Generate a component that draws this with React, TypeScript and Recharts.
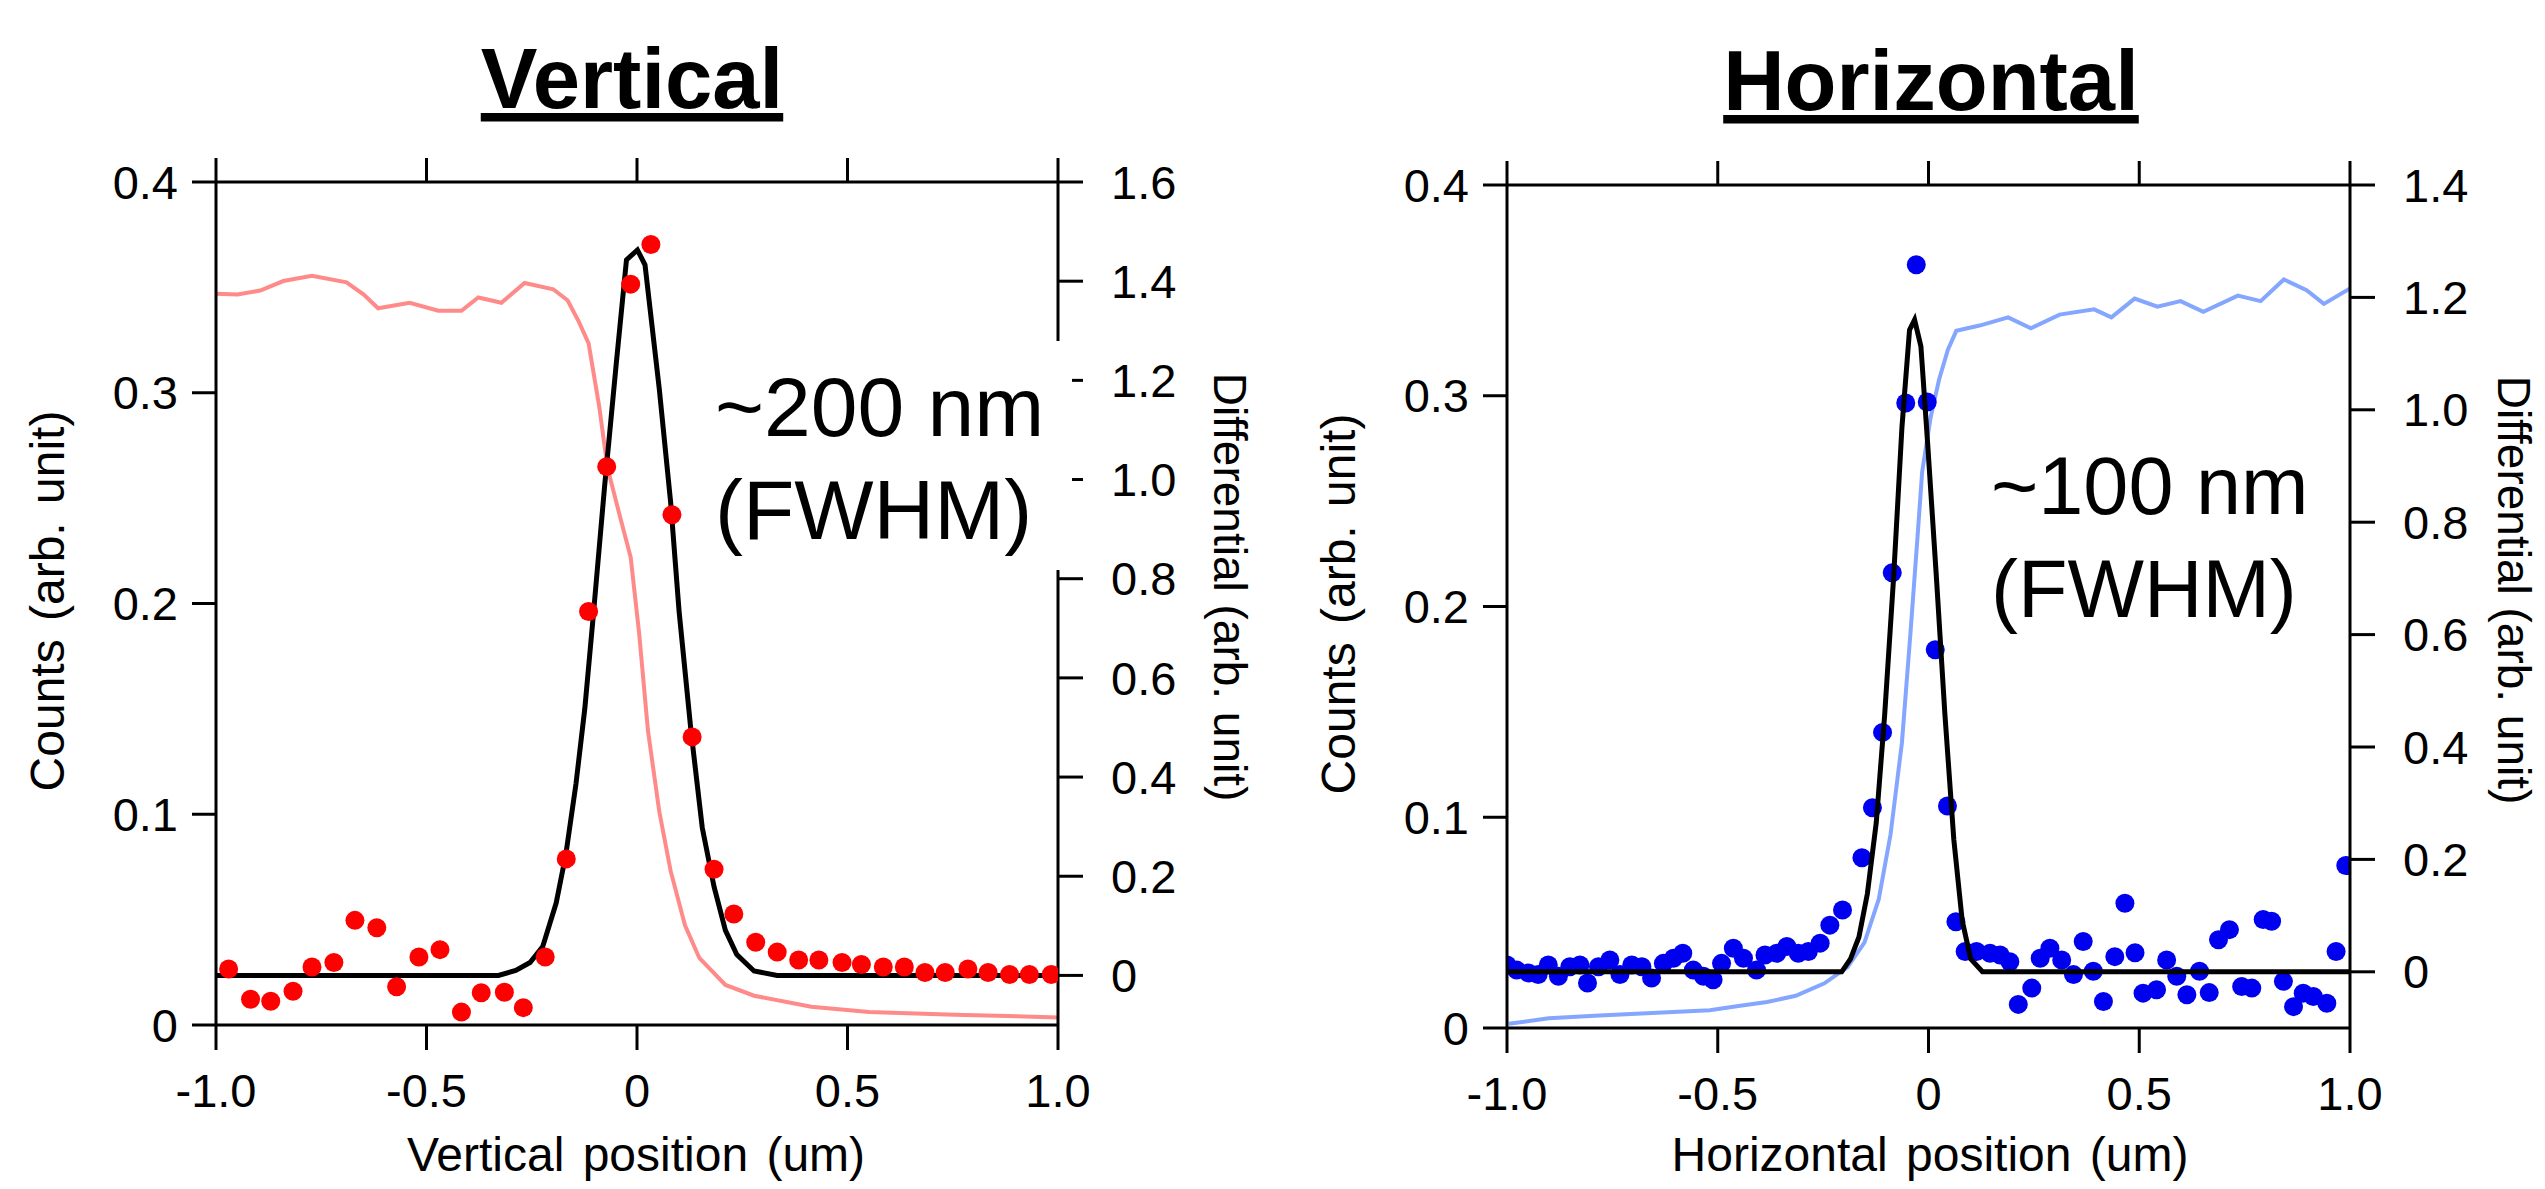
import React from 'react'
import { ComposedChart, Line, Scatter, XAxis, YAxis } from 'recharts'

const FONT = '"Liberation Sans", Arial, Helvetica, sans-serif'

// shared axis ticks
const xTicks = [-1, -0.5, 0, 0.5, 1]
const countTicks = [0, 0.1, 0.2, 0.3, 0.4]
const vertDiffTicks = [0, 0.2, 0.4, 0.6, 0.8, 1.0, 1.2, 1.4, 1.6]
const horDiffTicks = [0, 0.2, 0.4, 0.6, 0.8, 1.0, 1.2, 1.4]

// Vertical scan: knife-edge counts (left axis)
const vertEdgeX = [-1.0, -0.949, -0.895, -0.84, -0.772, -0.69, -0.649, -0.615, -0.54, -0.472, -0.417, -0.377, -0.322, -0.267, -0.199, -0.165, -0.138, -0.115, -0.09, -0.07, -0.042, -0.015, 0.005, 0.026, 0.053, 0.08, 0.114, 0.148, 0.21, 0.278, 0.414, 0.551, 0.755, 1.0]
const vertEdgeY = [0.347, 0.3466, 0.3485, 0.353, 0.3555, 0.3524, 0.3466, 0.3401, 0.3427, 0.3389, 0.3389, 0.3452, 0.3427, 0.3521, 0.3491, 0.3439, 0.3336, 0.3234, 0.2938, 0.2643, 0.2425, 0.2219, 0.186, 0.1397, 0.1012, 0.073, 0.0473, 0.0318, 0.019, 0.0139, 0.0087, 0.0062, 0.0049, 0.0036]

// Vertical scan: gaussian fit (right axis)
const vertFitX = [-1.0, -0.329, -0.288, -0.254, -0.224, -0.192, -0.169, -0.145, -0.124, -0.104, -0.077, -0.049, -0.025, 0.001, 0.019, 0.053, 0.08, 0.1, 0.128, 0.155, 0.183, 0.21, 0.237, 0.278, 0.333, 1.0]
const vertFitY = [0, 0, 0.01, 0.026, 0.058, 0.146, 0.244, 0.386, 0.538, 0.724, 0.986, 1.236, 1.443, 1.463, 1.433, 1.182, 0.953, 0.734, 0.495, 0.298, 0.179, 0.091, 0.042, 0.009, 0, 0]

// Vertical scan: differential points (right axis)
const vertDotX = [-0.97, -0.918, -0.87, -0.817, -0.772, -0.72, -0.67, -0.618, -0.571, -0.518, -0.468, -0.417, -0.37, -0.315, -0.27, -0.218, -0.168, -0.115, -0.072, -0.015, 0.033, 0.083, 0.131, 0.183, 0.23, 0.282, 0.333, 0.384, 0.432, 0.487, 0.533, 0.585, 0.635, 0.684, 0.732, 0.786, 0.834, 0.885, 0.932, 0.984]
const vertDotY = [0.013, -0.048, -0.052, -0.032, 0.017, 0.026, 0.111, 0.096, -0.023, 0.037, 0.052, -0.074, -0.035, -0.034, -0.065, 0.037, 0.235, 0.734, 1.026, 1.394, 1.474, 0.929, 0.481, 0.214, 0.124, 0.067, 0.047, 0.031, 0.031, 0.026, 0.022, 0.017, 0.017, 0.006, 0.006, 0.013, 0.006, 0.002, 0.002, 0.002]

// Horizontal scan: knife-edge counts (left axis)
const horEdgeX = [-0.996, -0.901, -0.792, -0.656, -0.519, -0.451, -0.383, -0.315, -0.247, -0.192, -0.152, -0.118, -0.09, -0.063, -0.043, -0.026, -0.015, 0.005, 0.025, 0.046, 0.066, 0.121, 0.189, 0.243, 0.311, 0.393, 0.434, 0.489, 0.543, 0.598, 0.652, 0.734, 0.788, 0.843, 0.897, 0.938, 0.999]
const horEdgeY = [0.002, 0.0046, 0.0058, 0.0071, 0.0084, 0.0104, 0.0123, 0.0153, 0.0212, 0.0289, 0.0405, 0.0611, 0.0919, 0.1355, 0.1869, 0.2332, 0.264, 0.2897, 0.3076, 0.3218, 0.3308, 0.3333, 0.3372, 0.332, 0.3385, 0.341, 0.3372, 0.3461, 0.3423, 0.3449, 0.3398, 0.3475, 0.3449, 0.3552, 0.3501, 0.3436, 0.3508]

// Horizontal scan: gaussian fit (right axis)
const horFitX = [-1.0, -0.206, -0.185, -0.165, -0.145, -0.124, -0.104, -0.083, -0.063, -0.045, -0.033, -0.018, -0.002, 0.019, 0.039, 0.06, 0.08, 0.1, 0.128, 1.0]
const horFitY = [0, 0, 0.023, 0.062, 0.139, 0.265, 0.457, 0.699, 0.969, 1.142, 1.16, 1.113, 0.94, 0.699, 0.457, 0.236, 0.091, 0.023, 0, 0]

// Horizontal scan: differential points (right axis)
const horDotX = [-1.0, -0.977, -0.949, -0.926, -0.902, -0.878, -0.851, -0.827, -0.809, -0.783, -0.756, -0.732, -0.704, -0.68, -0.657, -0.629, -0.605, -0.583, -0.558, -0.534, -0.511, -0.491, -0.463, -0.439, -0.408, -0.388, -0.36, -0.336, -0.309, -0.285, -0.257, -0.234, -0.204, -0.158, -0.133, -0.109, -0.086, -0.054, -0.029, -0.003, 0.016, 0.045, 0.065, 0.087, 0.114, 0.146, 0.17, 0.193, 0.213, 0.245, 0.265, 0.288, 0.316, 0.344, 0.367, 0.391, 0.415, 0.442, 0.466, 0.49, 0.509, 0.541, 0.565, 0.589, 0.613, 0.643, 0.666, 0.688, 0.714, 0.743, 0.767, 0.794, 0.814, 0.842, 0.866, 0.889, 0.913, 0.945, 0.967, 0.99]
const horDotY = [0.012, 0.003, -0.002, -0.005, 0.012, -0.008, 0.009, 0.012, -0.02, 0.009, 0.021, -0.005, 0.012, 0.009, -0.011, 0.015, 0.024, 0.033, 0.003, -0.008, -0.014, 0.015, 0.042, 0.024, 0.003, 0.03, 0.033, 0.045, 0.033, 0.036, 0.051, 0.083, 0.11, 0.203, 0.292, 0.426, 0.71, 1.012, 1.258, 1.014, 0.573, 0.295, 0.089, 0.036, 0.036, 0.033, 0.03, 0.018, -0.058, -0.029, 0.024, 0.042, 0.021, -0.005, 0.054, 0.001, -0.053, 0.027, 0.122, 0.034, -0.038, -0.032, 0.021, -0.008, -0.041, 0.001, -0.037, 0.057, 0.075, -0.026, -0.029, 0.093, 0.09, -0.017, -0.062, -0.038, -0.044, -0.056, 0.036, 0.189]

const zip = (xs: number[], ys: number[]) => xs.map((x, i) => ({ x, y: ys[i] }))

const fmt = (v: number) => (v === 0 ? '0' : v.toFixed(1))

const axisStroke = { stroke: '#000', strokeWidth: 3 }
const tickText = { fill: '#000', fontSize: 47, fontFamily: FONT }

interface PanelProps {
  left: number
  width: number
  margin: { top: number; right: number; bottom: number; left: number }
  edge: { x: number; y: number }[]
  fit: { x: number; y: number }[]
  dots: { x: number; y: number }[]
  edgeColor: string
  dotColor: string
  diffMax: number
  diffTicks: number[]
  dotsOnTop: boolean
}

const Panel: React.FC<PanelProps> = ({ left, width, margin, edge, fit, dots, edgeColor, dotColor, diffMax, diffTicks, dotsOnTop }) => {
  const dotShape = (p: any) => <circle cx={p.cx} cy={p.cy} r={9.5} fill={dotColor} />
  const scatter = (
    <Scatter
      key="dots"
      xAxisId="b"
      yAxisId="R"
      data={dots}
      dataKey="y"
      fill={dotColor}
      shape={dotShape}
      isAnimationActive={false}
      zIndex={dotsOnTop ? 700 : 350}
    />
  )
  return (
    <div style={{ position: 'absolute', left, top: 0 }}>
      <ComposedChart width={width} height={1189} margin={margin}>
        <XAxis
          xAxisId="b"
          type="number"
          dataKey="x"
          domain={[-1, 1]}
          ticks={xTicks}
          interval={0}
          allowDataOverflow
          tickFormatter={fmt}
          height={100}
          tickSize={25}
          tickMargin={24}
          axisLine={axisStroke}
          tickLine={axisStroke}
          tick={tickText}
        />
        <XAxis
          xAxisId="t"
          orientation="top"
          type="number"
          dataKey="x"
          domain={[-1, 1]}
          ticks={xTicks}
          interval={0}
          allowDataOverflow
          tickFormatter={() => ''}
          height={30}
          tickSize={24}
          axisLine={axisStroke}
          tickLine={axisStroke}
          tick={tickText}
        />
        <YAxis
          yAxisId="L"
          dataKey="y"
          type="number"
          domain={[0, 0.4]}
          ticks={countTicks}
          interval={0}
          allowDataOverflow
          tickFormatter={fmt}
          width={100}
          tickSize={24}
          tickMargin={14}
          axisLine={axisStroke}
          tickLine={axisStroke}
          tick={tickText}
        />
        <YAxis
          yAxisId="R"
          orientation="right"
          dataKey="y"
          type="number"
          domain={[-0.1, diffMax]}
          ticks={diffTicks}
          interval={0}
          allowDataOverflow
          tickFormatter={fmt}
          width={150}
          tickSize={25}
          tickMargin={28}
          axisLine={axisStroke}
          tickLine={axisStroke}
          tick={tickText}
        />
        <Line
          xAxisId="b"
          yAxisId="L"
          data={edge}
          dataKey="y"
          type="linear"
          stroke={edgeColor}
          strokeWidth={4}
          dot={false}
          isAnimationActive={false}
          zIndex={300}
        />
        {!dotsOnTop && scatter}
        <Line
          xAxisId="b"
          yAxisId="R"
          data={fit}
          dataKey="y"
          type="linear"
          stroke="#000"
          strokeWidth={5}
          dot={false}
          isAnimationActive={false}
          zIndex={400}
        />
        {dotsOnTop && scatter}
      </ComposedChart>
    </div>
  )
}

const App: React.FC = () => {
  const labelStyle = { fontFamily: FONT, fill: '#000' }
  return (
    <div style={{ position: 'absolute', left: 0, top: 0, width: 2545, height: 1189, background: '#fff', overflow: 'hidden' }}>
      <Panel
        left={0}
        width={1300}
        margin={{ top: 152, right: 92, bottom: 64, left: 116 }}
        edge={zip(vertEdgeX, vertEdgeY)}
        fit={zip(vertFitX, vertFitY)}
        dots={zip(vertDotX, vertDotY)}
        edgeColor="#ff8a8a"
        dotColor="#ff0000"
        diffMax={1.6}
        diffTicks={vertDiffTicks}
        dotsOnTop
      />
      <Panel
        left={1290}
        width={1255}
        margin={{ top: 155, right: 45, bottom: 61, left: 117 }}
        edge={zip(horEdgeX, horEdgeY)}
        fit={zip(horFitX, horFitY)}
        dots={zip(horDotX, horDotY)}
        edgeColor="#84a6ff"
        dotColor="#0000f0"
        diffMax={1.4}
        diffTicks={horDiffTicks}
        dotsOnTop={false}
      />
      <svg width={2545} height={1189} style={{ position: 'absolute', left: 0, top: 0, pointerEvents: 'none' }}>
        {/* titles */}
        <text x={632} y={108} textAnchor="middle" fontSize={85} fontWeight="bold" textDecoration="underline" style={labelStyle}>
          Vertical
        </text>
        <text x={1931} y={110} textAnchor="middle" fontSize={85} fontWeight="bold" textDecoration="underline" style={labelStyle}>
          Horizontal
        </text>

        {/* FWHM notes, the left one sits on a white box over the axis */}
        <rect x={705} y={341} width={367} height={229} fill="#fff" />
        <text x={715} y={436} fontSize={84} style={labelStyle}>~200 nm</text>
        <text x={715} y={539} fontSize={84} style={labelStyle}>(FWHM)</text>
        <text x={1991} y={514} fontSize={81} style={labelStyle}>~100 nm</text>
        <text x={1991} y={617} fontSize={81} style={labelStyle}>(FWHM)</text>

        {/* axis titles */}
        <text x={636} y={1171} textAnchor="middle" fontSize={48} wordSpacing={5} style={labelStyle}>
          Vertical position (um)
        </text>
        <text x={1930} y={1171} textAnchor="middle" fontSize={48} wordSpacing={5} style={labelStyle}>
          Horizontal position (um)
        </text>
        <text transform="translate(64,601) rotate(-90)" textAnchor="middle" fontSize={48} wordSpacing={5} style={labelStyle}>
          Counts (arb. unit)
        </text>
        <text transform="translate(1355,604) rotate(-90)" textAnchor="middle" fontSize={48} wordSpacing={5} style={labelStyle}>
          Counts (arb. unit)
        </text>
        <text transform="translate(1214,587) rotate(90)" textAnchor="middle" fontSize={46} style={labelStyle}>
          Differential (arb. unit)
        </text>
        <text transform="translate(2498,590) rotate(90)" textAnchor="middle" fontSize={46} style={labelStyle}>
          Differential (arb. unit)
        </text>
      </svg>
    </div>
  )
}

export default App
